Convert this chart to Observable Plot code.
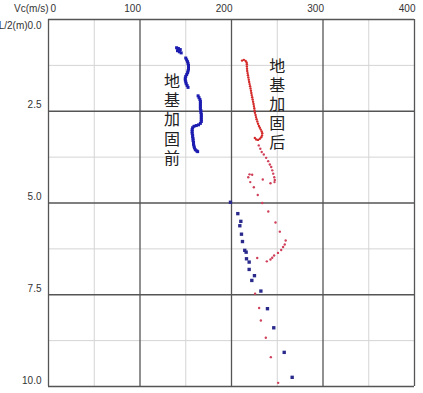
<!DOCTYPE html>
<html>
<head>
<meta charset="utf-8">
<script src="https://cdn.jsdelivr.net/npm/d3@7"></script>
<script src="https://cdn.jsdelivr.net/npm/@observablehq/plot@0.6"></script>
<style>
  html, body { margin: 0; padding: 0; background: #fff; }
  #chart svg { display: block; }
</style>
</head>
<body>
<div id="chart"></div>
<script>
// Tick values / labels
const xTicks = [0, 100, 200, 300, 400];
const xMinor = [50, 150, 250, 350];
const yTicks = [0, 2.5, 5, 7.5, 10];
const yMinor = [1.25, 3.75, 6.25, 8.75];
const xAxisTitle = "Vc(m/s)";
const yAxisTitle = "L/2(m)";

// Before reinforcement (blue): [Vc, depth]
const blueDense = [
  [140, 0.77], [142, 0.79], [144, 0.82], [141, 0.85], [143, 0.88], [145, 0.91],
  [150, 1.05], [151, 1.10], [152, 1.15], [152.5, 1.20], [153, 1.25], [153, 1.30], [153, 1.35],
  [152.5, 1.40], [152, 1.45], [151, 1.50], [150, 1.55], [149.5, 1.60], [149.5, 1.65],
  [150, 1.70], [150.5, 1.75], [151.5, 1.80], [152.5, 1.85],
  [163.5, 2.08], [164.5, 2.13], [165.5, 2.18], [166, 2.23], [166, 2.28], [166, 2.33], [166, 2.38],
  [166, 2.43], [166.5, 2.48], [166.5, 2.53], [167, 2.58], [167, 2.63], [167, 2.68], [167, 2.73],
  [167, 2.78], [166, 2.83], [164, 2.87], [161.5, 2.89], [159, 2.91], [157.5, 2.95], [157, 3.00],
  [157, 3.05], [157, 3.10], [157.5, 3.15], [157.5, 3.20], [158, 3.25], [158, 3.30], [158.5, 3.35],
  [158.5, 3.40], [159, 3.45], [159.5, 3.50], [160.5, 3.55], [162, 3.58], [163, 3.60]
];
const blueSparse = [
  [198.9, 4.98], [206.9, 5.29], [210.2, 5.50], [209.1, 5.62], [210.9, 5.85], [212, 6.05],
  [214.5, 6.29], [216, 6.34], [216.4, 6.52], [219.3, 6.61], [219.3, 6.81], [225.1, 6.98],
  [222.2, 7.11], [232.1, 7.40], [239.3, 7.88], [246.2, 8.40], [257.6, 9.07], [266.3, 9.75]
];

// After reinforcement (red): [Vc, depth]
const redDense = [
  [211.5, 1.12], [213.5, 1.10], [215.5, 1.13], [216.5, 1.17], [216.8, 1.22], [216.8, 1.28],
  [217, 1.34], [217.2, 1.40], [217.6, 1.46], [218, 1.52], [218.4, 1.58], [218.9, 1.64],
  [219.3, 1.70], [219.8, 1.76], [220.3, 1.82], [220.8, 1.88], [221.3, 1.94], [221.7, 2.00],
  [222.1, 2.06], [222.6, 2.12], [223.1, 2.18], [223.6, 2.24], [224.1, 2.30], [224.5, 2.36],
  [224.9, 2.42], [225.2, 2.48], [225.6, 2.54], [226.3, 2.60], [226.8, 2.66], [227.4, 2.72],
  [228.2, 2.78], [229, 2.84], [230, 2.90], [231, 2.95], [232, 3.00], [233, 3.05], [233.6, 3.10],
  [233.4, 3.16], [232.5, 3.21], [231, 3.25], [229, 3.28], [227, 3.27], [225.5, 3.23]
];
const redSparse = [
  [229.8, 3.43], [231.5, 3.52], [233, 3.61], [235.3, 3.68], [237.9, 3.77], [240.1, 3.86],
  [241.9, 3.95], [243.4, 4.02], [244.5, 4.11], [245.6, 4.20], [246.7, 4.30], [247.3, 4.37],
  [247, 4.43], [242.6, 4.46], [234.2, 4.36], [222.6, 4.23], [219.7, 4.22], [218.3, 4.30],
  [220.5, 4.43], [224.4, 4.57], [228.7, 4.78], [233.6, 5.00], [240.2, 5.23], [248.1, 5.53],
  [252.8, 5.78], [259.2, 6.02], [258.2, 6.13], [256.4, 6.20], [254.3, 6.28], [250.8, 6.36],
  [246.6, 6.43], [244.5, 6.49], [242.6, 6.54], [238.6, 6.59], [228.1, 6.50], [225.8, 7.47],
  [230.2, 7.86], [232.1, 8.20], [237.5, 8.67], [243, 9.20], [251, 9.90]
];

// Annotations
const labels = [
  {text: "地基加固前", vc: 135, depth: 2.72},
  {text: "地基加固后", vc: 250, depth: 2.30}
];

const vertical = s => Array.from(s).join("\n");
const axisFont = {fontSize: 10, fill: "#333"};

const chart = Plot.plot({
  width: 423,
  height: 393,
  marginLeft: 48,
  marginRight: 9,
  marginTop: 19,
  marginBottom: 7,
  style: {background: "#fff", fontFamily: "'Liberation Sans', Arial, sans-serif"},
  x: {domain: [0, 400]},
  y: {domain: [0, 10], reverse: true},
  marks: [
    Plot.ruleX(xMinor, {stroke: "#d4d4d4", strokeWidth: 1}),
    Plot.ruleY(yMinor, {stroke: "#d4d4d4", strokeWidth: 1}),
    Plot.ruleX(xTicks, {stroke: "#555", strokeWidth: 1.3}),
    Plot.ruleY(yTicks, {stroke: "#555", strokeWidth: 1.3}),
    // x axis: numbers right-aligned to their gridline, "0" just right of the left edge
    Plot.axisX(xTicks.filter(d => d !== 0), {
      anchor: "top", tickSize: 0, label: null, textAnchor: "end", dx: 1, dy: 1, ...axisFont
    }),
    Plot.axisX([0], {
      anchor: "top", tickSize: 0, label: null, textAnchor: "start", dx: 2, dy: 1, ...axisFont,
      tickFormat: () => "0"
    }),
    Plot.axisX([0], {
      anchor: "top", tickSize: 0, label: null, textAnchor: "end", dx: 0, dy: 1, ...axisFont,
      tickFormat: () => xAxisTitle
    }),
    // y axis: labels sit above their gridline, except the first which sits below the top edge
    Plot.axisY(yTicks.filter(d => d !== 0), {
      anchor: "left", tickSize: 0, label: null, dx: 2, dy: -6, ...axisFont,
      tickFormat: d3.format(".1f")
    }),
    Plot.axisY([0], {
      anchor: "left", tickSize: 0, label: null, dx: 2, dy: 6, ...axisFont,
      tickFormat: d => yAxisTitle + d3.format(".1f")(d)
    }),
    Plot.dot(blueDense, {x: d => d[0], y: d => d[1], symbol: "square", r: 1.7, fill: "#1c1cb0", stroke: null}),
    Plot.dot(redDense, {x: d => d[0], y: d => d[1], r: 1.2, fill: "#d42a2a", stroke: null}),
    Plot.dot(blueSparse, {x: d => d[0], y: d => d[1], symbol: "square", r: 1.9, fill: "#2a2a8c", stroke: null}),
    Plot.dot(redSparse, {x: d => d[0], y: d => d[1], r: 1.2, fill: "#d0405a", stroke: null}),
    Plot.text(labels, {
      x: "vc", y: "depth", text: d => vertical(d.text),
      fontSize: 16, lineHeight: 1.2, fill: "#222",
      fontFamily: "'Noto Sans CJK SC', sans-serif"
    })
  ]
});

document.getElementById("chart").appendChild(chart);
</script>
</body>
</html>
